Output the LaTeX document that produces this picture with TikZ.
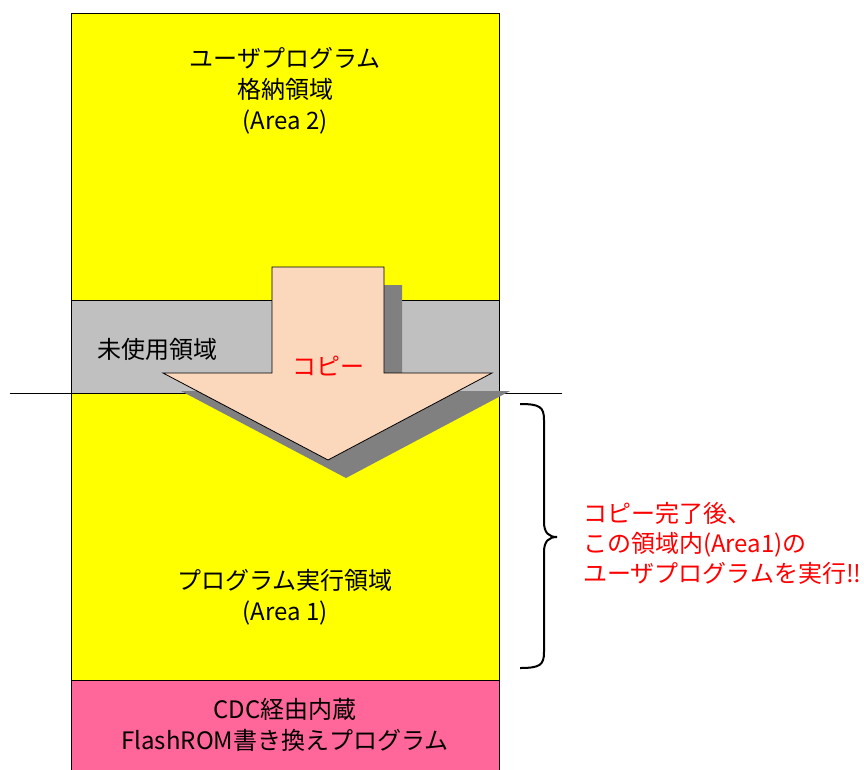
\documentclass[tikz,border=0pt]{standalone}
\usepackage{fontspec}
\setmainfont{Noto Sans CJK JP}
\definecolor{myyellow}{HTML}{FFFF00}
\definecolor{mygrey}{HTML}{C0C0C0}
\definecolor{mypink}{HTML}{FF6699}
\definecolor{mypeach}{HTML}{FBD7BB}
\definecolor{myshadow}{HTML}{808080}
\definecolor{myred}{HTML}{FF0000}
\begin{document}
\begin{tikzpicture}[x=1pt,y=-1pt,
  region/.style={draw=black,line width=1pt},
  lbl/.style={align=center,font=\fontsize{24}{31}\selectfont,inner sep=0pt},
  redlbl/.style={align=left,font=\fontsize{24}{30}\selectfont,text=myred,inner sep=0pt}]
\useasboundingbox (0,0) rectangle (864,769);
\begin{scope}
\clip (0,0) rectangle (864,769);
\fill[white] (0,0) rectangle (864,769);
\draw[region,fill=myyellow] (71,13) rectangle (499,300);
\draw[region,fill=mygrey] (71,300) rectangle (499,393);
\draw[region,fill=myyellow] (71,393) rectangle (499,680);
\draw[region,fill=mypink] (71,680) rectangle (499,780);
\coordinate (lineL) at (10,393);
\coordinate (lineR) at (562,393);
\draw[line width=1pt] (lineL) -- (lineR);
% shadow
\fill[myshadow,shift={(18,18)}] (272,267) -- (384,267) -- (384,373) -- (492,373) -- (328,460) -- (163,373) -- (272,373) -- cycle;
% arrow
\draw[fill=mypeach,line width=0.8pt] (272,267) -- (384,267) -- (384,373) -- (492,373) -- (328,460) -- (163,373) -- (272,373) -- cycle;
\end{scope}
\node[lbl] (area2) at (285,91) {ユーザプログラム\\格納領域\\(Area 2)};
\node[lbl,anchor=west] (unused) at (97,349) {未使用領域};
\node[lbl,text=myred] (copy) at (328,366) {コピー};
\node[lbl] (area1) at (285,597) {プログラム実行領域\\(Area 1)};
\node[lbl] (cdc) at (285,725) {CDC経由内蔵\\FlashROM書き換えプログラム};
\node[redlbl,anchor=west] (note) at (583,543) {コピー完了後、\\この領域内(Area1)の\\ユーザプログラムを実行!!};
\coordinate (bt) at (520,404);
\coordinate (bb) at (520,668);
\draw[line width=2pt] (bt) .. controls (540,404) and (544,407) .. (544,420) -- (544,522) .. controls (544,533) and (549,537) .. (557,537) .. controls (549,537) and (544,541) .. (544,552) -- (544,652) .. controls (544,665) and (540,668) .. (bb);
\end{tikzpicture}
\end{document}
